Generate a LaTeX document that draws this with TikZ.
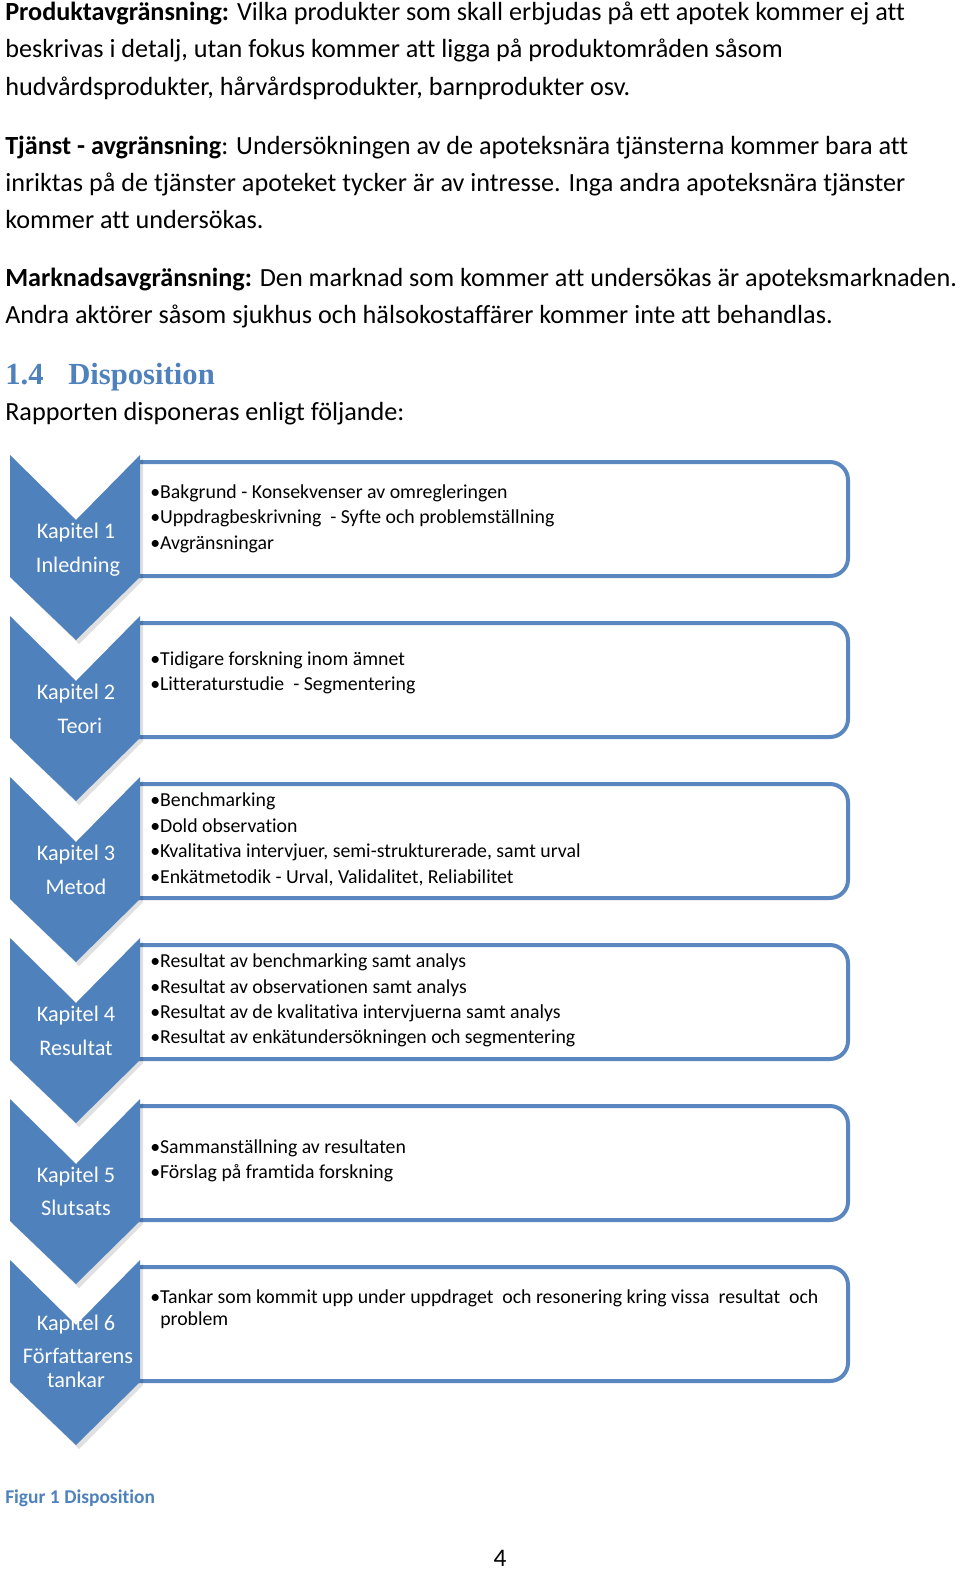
\documentclass[tikz,border=0pt]{standalone}
\usepackage{fontspec}
\setmainfont{Carlito}[Ligatures={NoCommon}]
\newfontfamily\headfont{Liberation Serif}
\definecolor{accent}{HTML}{4F81BD}
\definecolor{boxline}{HTML}{5A87C0}
\tikzset{
  body/.style={anchor=base west, inner sep=0pt, font=\fontsize{19.65pt}{23pt}\selectfont, text=black},
  item/.style={anchor=base west, inner sep=0pt, font=\fontsize{14.85pt}{17pt}\selectfont, text=black},
  chevtext/.style={anchor=base, inner sep=0pt, font=\fontsize{16.7pt}{19pt}\selectfont, text=white},
  headtext/.style={anchor=base west, inner sep=0pt, font=\headfont\bfseries\fontsize{23pt}{27pt}\selectfont, text=accent},
  chevron/.style={fill=accent, draw=none},
  chevshadow/.style={fill=black, opacity=0.12, draw=none},
  itembox/.style={draw=boxline, line width=3pt, fill=white, line join=round},
}
\begin{document}
\begin{tikzpicture}[x=0.75pt, y=-0.75pt]
\useasboundingbox (0,0) rectangle (960,1570);
\fill[white] (0,0) rectangle (960,1570);

% --- body text
\node[body] (p1a) at (5,21) {\textbf{Produktavgränsning:} Vilka produkter som skall erbjudas på ett apotek kommer ej att};
\node[body] (p1b) at (5,58) {beskrivas i detalj, utan fokus kommer att ligga på produktområden såsom};
\node[body] (p1c) at (5,95) {hudvårdsprodukter, hårvårdsprodukter, barnprodukter osv.};
\node[body] (p2a) at (5,154) {\textbf{Tjänst - avgränsning}: Undersökningen av de apoteksnära tjänsterna kommer bara att};
\node[body] (p2b) at (5,191) {inriktas på de tjänster apoteket tycker är av intresse. Inga andra apoteksnära tjänster};
\node[body] (p2c) at (5,228) {kommer att undersökas.};
\node[body] (p3a) at (5,286) {\textbf{Marknadsavgränsning:} Den marknad som kommer att undersökas är apoteksmarknaden.};
\node[body] (p3b) at (5,323) {Andra aktörer såsom sjukhus och hälsokostaffärer kommer inte att behandlas.};
\node[headtext] (h1) at (5,384) {1.4};
\node[headtext] (h2) at (68,384) {Disposition};
\node[body] (intro) at (5,420) {Rapporten disponeras enligt följande:};

% --- boxes and chevrons
\foreach \i in {0,...,5} {
  \pgfmathsetmacro{\T}{455+161*\i}
  \pgfmathsetmacro{\B}{462+161*\i}
  \draw[itembox] (136,\B) -- (830,\B) arc[start angle=90, end angle=0, radius=13.5pt]
     -- (848,\B+96) arc[start angle=0, end angle=-90, radius=13.5pt] -- (136,\B+114) -- cycle;
  \fill[chevshadow] (13,\T+3) -- (79,\T+68) -- (143,\T+3) -- (143,\T+125) -- (79,\T+189) -- (13,\T+125) -- cycle;
  \fill[chevron] (10,\T) -- (76,\T+65) -- (140,\T) -- (140,\T+122) -- (76,\T+185) -- (10,\T+122) -- cycle;
}

% --- chevron labels
\node[chevtext] (k1) at (76,538) {Kapitel 1};
\node[chevtext] (n1) at (78,572) {Inledning};
\node[chevtext] (k2) at (76,699) {Kapitel 2};
\node[chevtext] (n2) at (80,733) {Teori};
\node[chevtext] (k3) at (76,860) {Kapitel 3};
\node[chevtext] (n3) at (76,894) {Metod};
\node[chevtext] (k4) at (76,1021) {Kapitel 4};
\node[chevtext] (n4) at (76,1055) {Resultat};
\node[chevtext] (k5) at (76,1182) {Kapitel 5};
\node[chevtext] (n5) at (76,1215) {Slutsats};
\node[chevtext] (k6) at (76,1330) {Kapitel 6};
\node[chevtext] (n6) at (78,1363) {Författarens};
\node[chevtext] (m6) at (76,1387) {tankar};

% --- box items
\node[item] (a1) at (150,498) {•Bakgrund - Konsekvenser av omregleringen};
\node[item] (a2) at (150,523) {•Uppdragbeskrivning\ \ - Syfte och problemställning};
\node[item] (a3) at (150,549) {•Avgränsningar};
\node[item] (b1) at (150,665) {•Tidigare forskning inom ämnet};
\node[item] (b2) at (150,690) {•Litteraturstudie\ \ - Segmentering};
\node[item] (c1) at (150,806) {•Benchmarking};
\node[item] (c2) at (150,832) {•Dold observation};
\node[item] (c3) at (150,857) {•Kvalitativa intervjuer, semi-strukturerade, samt urval};
\node[item] (c4) at (150,883) {•Enkätmetodik - Urval, Validalitet, Reliabilitet};
\node[item] (d1) at (150,967) {•Resultat av benchmarking samt analys};
\node[item] (d2) at (150,993) {•Resultat av observationen samt analys};
\node[item] (d3) at (150,1018) {•Resultat av de kvalitativa intervjuerna samt analys};
\node[item] (d4) at (150,1043) {•Resultat av enkätundersökningen och segmentering};
\node[item] (e1) at (150,1153) {•Sammanställning av resultaten};
\node[item] (e2) at (150,1178) {•Förslag på framtida forskning};
\node[item] (f1) at (150,1303) {•Tankar som kommit upp under uppdraget\ \ och resonering kring vissa\ \ resultat\ \ och};
\node[item] (f2) at (160,1325) {problem};

% --- caption and page number
\node[anchor=base west, inner sep=0pt, font=\bfseries\fontsize{14.6pt}{17pt}\selectfont, text=accent] (cap) at (5,1503) {Figur 1 Disposition};
\node[anchor=base, inner sep=0pt, font=\fontsize{19pt}{22pt}\selectfont] (pg) at (500,1566) {4};
\end{tikzpicture}
\end{document}
